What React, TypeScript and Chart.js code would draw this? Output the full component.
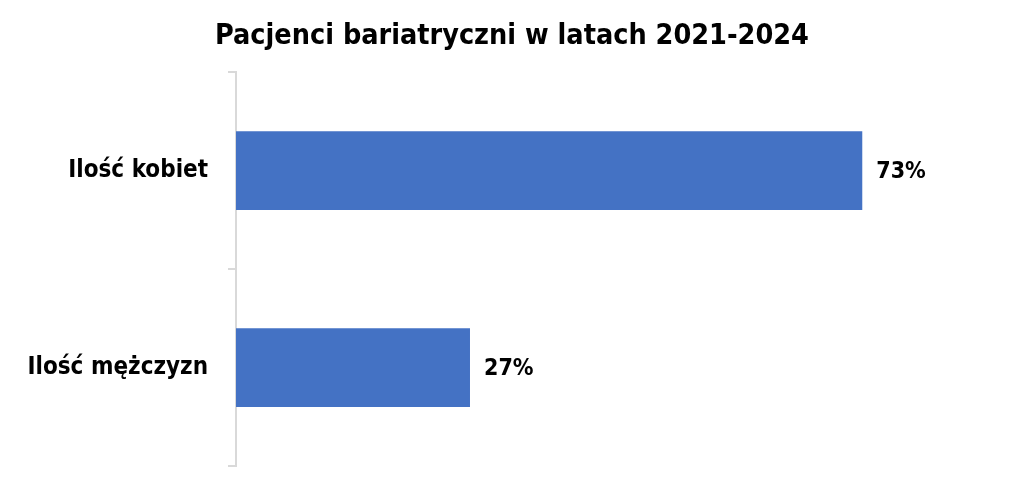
import React, { useEffect, useRef } from "react";
import { Chart, registerables } from "chart.js";

Chart.register(...registerables);

const titleText = "Pacjenci bariatryczni w latach 2021-2024";
const categories = ["Ilość kobiet", "Ilość mężczyzn"];
const values = [72.8, 27.2];
const valueLabels = ["73%", "27%"];
const xMax = 91.6;

const FONT = "'DejaVu Sans Condensed', 'DejaVu Sans', sans-serif";

const valueLabelPlugin = {
  id: "valueLabels",
  afterDatasetsDraw(chart: any) {
    const { ctx } = chart;
    const meta = chart.getDatasetMeta(0);
    ctx.save();
    ctx.font = `bold 23px ${FONT}`;
    ctx.fillStyle = "#000";
    ctx.textAlign = "left";
    ctx.textBaseline = "middle";
    meta.data.forEach((el: any, i: number) => {
      ctx.fillText(valueLabels[i], el.x + 14, el.y + 1);
    });
    ctx.restore();
  },
};

export default function App() {
  const ref = useRef<HTMLCanvasElement>(null);
  useEffect(() => {
    if (!ref.current) return;
    const chart = new Chart(ref.current, {
      type: "bar",
      data: {
        labels: categories,
        datasets: [
          {
            data: values,
            backgroundColor: "#4472C4",
            borderWidth: 0,
            barPercentage: 0.8,
            categoryPercentage: 0.5,
          },
        ],
      },
      options: {
        indexAxis: "y",
        animation: false,
        responsive: true,
        maintainAspectRatio: false,
        layout: { padding: { left: 0, right: 0, top: 0, bottom: 12 } },
        plugins: {
          legend: { display: false },
          tooltip: { enabled: false },
          title: {
            display: true,
            text: titleText,
            color: "#000",
            font: { family: FONT, size: 28.5, weight: "bold" },
            padding: { top: 19, bottom: 19 },
          },
        },
        scales: {
          x: { display: false, min: 0, max: xMax },
          y: {
            type: "category",
            offset: true,
            grid: {
              offset: true,
              drawOnChartArea: false,
              drawTicks: true,
              tickLength: 8,
              color: "#d9d9d9",
              lineWidth: 2,
            },
            border: { display: true, color: "#d9d9d9", width: 2 },
            ticks: {
              color: "#000",
              padding: 20,
              font: { family: FONT, size: 24, weight: "bold" },
            },
            afterFit(scale: any) {
              scale.width = 236;
              scale.paddingTop = 0;
              scale.paddingBottom = 0;
            },
          },
        },
      },
      plugins: [valueLabelPlugin],
    });
    return () => chart.destroy();
  }, []);
  return (
    <div style={{ position: "fixed", left: 0, top: 0, width: 1024, height: 478, background: "#fff" }}>
      <canvas ref={ref} />
    </div>
  );
}
